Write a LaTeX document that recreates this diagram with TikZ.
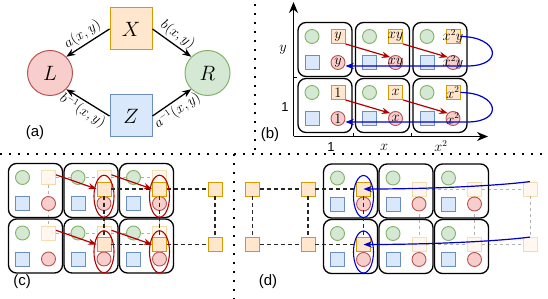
\documentclass[tikz,border=0pt]{standalone}
\usepackage{fontspec}
\setsansfont{Liberation Sans}
\usepackage{amsmath}
\usetikzlibrary{arrows.meta,calc,shapes.geometric}
\definecolor{orgfill}{HTML}{FFE6CC}
\definecolor{orgline}{HTML}{D79B00}
\definecolor{grnfill}{HTML}{D5E8D4}
\definecolor{grnline}{HTML}{82B366}
\definecolor{blufill}{HTML}{DAE8FC}
\definecolor{bluline}{HTML}{6C8EBF}
\definecolor{redfill}{HTML}{F8CECC}
\definecolor{redline}{HTML}{B85450}
\definecolor{arrred}{HTML}{B20000}
\definecolor{arrblue}{HTML}{0000CC}
\pgfdeclarelayer{back}
\pgfsetlayers{back,main}

\begin{document}
\begin{tikzpicture}[x=1pt,y=-1pt,>=Stealth]
\tikzstyle{sym}=[inner sep=0pt,minimum size=14pt,line width=0.9pt]
\tikzstyle{grn}=[sym,circle,draw=grnline,fill=grnfill]
\tikzstyle{blu}=[sym,draw=bluline,fill=blufill]
\tikzstyle{org}=[sym,draw=orgline,fill=orgfill]
\tikzstyle{ghost}=[org,opacity=0.3]
\tikzstyle{rdc}=[sym,circle,draw=redline,fill=redfill]
\tikzstyle{cellbox}=[draw,line width=1.3pt,rounded corners=8pt,minimum width=54pt,minimum height=54pt]
\tikzstyle{big}=[inner sep=0pt,line width=1pt,font=\fontsize{20}{22}\selectfont]
\tikzstyle{lab}=[font=\fontsize{13.5}{15}\selectfont]
\tikzstyle{sflab}=[font=\sffamily\fontsize{13}{15}\selectfont]
\tikzstyle{panel}=[font=\sffamily\fontsize{15}{17}\selectfont]
\tikzstyle{blackarr}=[-{Stealth[length=9pt,width=7pt]},line width=1.3pt]
\tikzstyle{redarr}=[->,arrred,line width=1.2pt]
\tikzstyle{bluarr}=[->,arrblue,line width=1.2pt]
\tikzstyle{axis}=[-{Stealth[length=11pt,width=9pt]},line width=1.3pt]
\tikzstyle{ring}=[ellipse,line width=1.1pt,minimum width=20pt,minimum height=42pt,inner sep=0pt]
\tikzstyle{greydash}=[dashed,black!30,line width=1pt]
\tikzstyle{latdash}=[dash pattern=on 4pt off 3pt,black!85,line width=1.1pt]
\tikzstyle{sepline}=[line width=2pt,dash pattern=on 2pt off 7pt]
\useasboundingbox (0,0) rectangle (548,299);

% separators
\coordinate (s1) at (0,154); \coordinate (s2) at (548,154);
\coordinate (s3) at (255,4); \coordinate (s4) at (255,154);
\coordinate (s5) at (234,154); \coordinate (s6) at (234,299);
\draw[sepline] (s1) -- (s2); \draw[sepline] (s3) -- (s4); \draw[sepline] (s5) -- (s6);

% (a)
\node[big,draw=orgline,fill=orgfill,minimum size=42pt] (X) at (131,29) {$X$};
\node[big,draw=bluline,fill=blufill,minimum size=42pt] (Z) at (131,116) {$Z$};
\node[big,circle,draw=redline,fill=redfill,minimum size=45pt] (L) at (50,73) {$L$};
\node[big,circle,draw=grnline,fill=grnfill,minimum size=45pt] (R) at (207.5,73) {$R$};
\draw[blackarr] (X.west) -- node[lab,sloped,above,inner sep=2pt]{$a(x,y)$} (L.north east);
\draw[blackarr] (X.east) -- node[lab,sloped,above,inner sep=2pt]{$b(x,y)$} (R.north west);
\draw[blackarr] (Z.west) -- node[lab,sloped,below,inner sep=2pt]{$b^{-1}(x,y)$} (L.south east);
\draw[blackarr] (Z.east) -- node[lab,sloped,below,inner sep=2pt]{$a^{-1}(x,y)$} (R.south west);
\node[panel] (pa) at (35,133) {(a)};

% (b)
\coordinate (b0) at (293.5,136.5);
\coordinate (bx) at (488,136.5);
\coordinate (by) at (293.5,2);
\draw[axis] (b0) -- (bx); \draw[axis] (b0) -- (by);
\draw[line width=0.8pt] (353.5,136.5) -- ++(0,-3) (411,136.5) -- ++(0,-3) (293.5,77.5) -- ++(3,0);
\foreach \i/\lo/\hi in {0/1/y,1/x/xy,2/x^2/x^2y} {
  \foreach \j/\t in {0/\hi,1/\lo} {
    \node[cellbox] (bc-\i-\j) at ({325+57.5*\i},{49.5+56*\j}) {};
    \node[grn] (bg-\i-\j) at ($(bc-\i-\j)+(-13,-13)$) {};
    \node[org,label={[lab]center:$\t$}] (bo-\i-\j) at ($(bc-\i-\j)+(13,-13)$) {};
    \node[blu] (bb-\i-\j) at ($(bc-\i-\j)+(-13,13)$) {};
    \node[rdc,label={[lab]center:$\t$}] (br-\i-\j) at ($(bc-\i-\j)+(13,13)$) {};
  }
}
\foreach \j in {0,1} {
  \draw[redarr] (bo-0-\j.south east) -- (br-1-\j.north west);
  \draw[redarr] (bo-1-\j.south east) -- (br-2-\j.north west);
  \draw[bluarr] (bo-2-\j.east) .. controls +(38,0) and +(38,0) .. ($(br-2-\j)+(14,3.5)$) -- ($(br-0-\j.east)+(0,3.5)$);
}
\node[lab] (ly) at (283,50) {$y$};
\node[sflab] (l1) at (285,107) {1};
\node[sflab] (lx0) at (331,147) {1};
\node[lab] (lx1) at (384,147) {$x$};
\node[lab] (lx2) at (441,146) {$x^2$};
\node[panel] (pb) at (270,135) {(b)};

% (c)
\foreach \i in {0,1,2} {
  \foreach \j in {0,1} {
    \node[cellbox] (cc-\i-\j) at ({35.5+55.5*\i},{190.5+55.5*\j}) {};
    \node[ghost] (cf-\i-\j) at ($(cc-\i-\j)+(13,-13)$) {};
    \node[grn] (cg-\i-\j) at ($(cc-\i-\j)+(-13,-13)$) {};
    \node[blu] (cb-\i-\j) at ($(cc-\i-\j)+(-13,13)$) {};
    \node[rdc] (cr-\i-\j) at ($(cc-\i-\j)+(13,13)$) {};
  }
}
\begin{pgfonlayer}{back}
\foreach \j in {0,1} \draw[greydash] (cf-0-\j) -- (cf-1-\j) -- (cf-2-\j);
\foreach \i in {0,1,2} \draw[greydash] (cf-\i-0) -- (cf-\i-1);
\end{pgfonlayer}
\foreach \k in {1,2,3} {
  \foreach \j in {0,1} {
    \node[org] (co-\k-\j) at ({48.5+55.5*\k},{189+55.5*\j}) {};
  }
}
\foreach \j in {0,1} \draw[latdash] (co-1-\j) -- (co-2-\j) -- (co-3-\j);
\foreach \k in {1,2,3} \draw[latdash] (co-\k-0) -- (co-\k-1);
\foreach \j in {0,1} {
  \draw[redarr] (cf-0-\j.20) -- (co-1-\j.west);
  \draw[redarr] (cf-1-\j.20) -- (co-2-\j.west);
}
\foreach \k in {1,2} {
  \foreach \j in {0,1} {
    \node[ring,draw=arrred] (ce-\k-\j) at ($(co-\k-\j)!0.5!(cr-\k-\j)$) {};
  }
}
\node[panel] (pc) at (22,282) {(c)};

% (d)
\foreach \i in {0,1,2} {
  \foreach \j in {0,1} {
    \node[cellbox] (dc-\i-\j) at ({350.5+55.5*\i},{191+55.5*\j}) {};
    \node[grn] (dg-\i-\j) at ($(dc-\i-\j)+(-13,-13)$) {};
    \node[blu] (db-\i-\j) at ($(dc-\i-\j)+(-13,13)$) {};
    \node[rdc] (dr-\i-\j) at ($(dc-\i-\j)+(13,13)$) {};
  }
}
\foreach \k in {1,2,3} {
  \foreach \j in {0,1} {
    \node[ghost] (df-\k-\j) at ({363.5+55.5*\k},{189+55.5*\j}) {};
  }
}
\foreach \k in {0,1,2} {
  \foreach \j in {0,1} {
    \node[org] (dl-\k-\j) at ({252.5+55.5*\k},{189+55.5*\j}) {};
  }
}
\begin{pgfonlayer}{back}
\foreach \j in {0,1} \draw[greydash] (df-1-\j) -- (df-2-\j) -- (df-3-\j);
\foreach \k in {1,2,3} \draw[greydash] (df-\k-0) -- (df-\k-1);
\end{pgfonlayer}
\foreach \j in {0,1} \draw[latdash] (dl-0-\j) -- (dl-1-\j) -- (dl-2-\j);
\foreach \k in {0,1,2} \draw[latdash] (dl-\k-0) -- (dl-\k-1);
\foreach \j in {0,1} {
  \draw[bluarr] (df-3-\j.north) .. controls +(-30,4) and +(70,0) .. (dl-2-\j.center);
  \node[ring,draw=arrblue] (de-\j) at ($(dl-2-\j)!0.5!(dr-0-\j)$) {};
}
\node[panel] (pd) at (268,282) {(d)};
\end{tikzpicture}
\end{document}
